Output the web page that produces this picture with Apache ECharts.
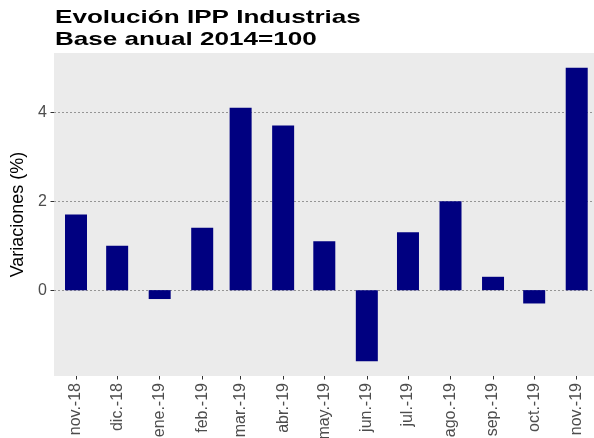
<!DOCTYPE html>
<html style="height: 100%">
<head>
    <meta charset="UTF-8">
    <title>Evolución IPP Industrias</title>
</head>
<body style="height: 100%; margin: 0">
<div id="container" style="width: 594px; height: 438px"></div>
<script src="https://cdn.jsdelivr.net/npm/echarts@6/dist/echarts.min.js"></script>
<script>
    var DAY = 86400000;
    // primer día de cada mes
    var fechas = ['2018-11-01', '2018-12-01', '2019-01-01', '2019-02-01', '2019-03-01', '2019-04-01', '2019-05-01',
        '2019-06-01', '2019-07-01', '2019-08-01', '2019-09-01', '2019-10-01', '2019-11-01'];
    var etiquetas = ['nov.-18', 'dic.-18', 'ene.-19', 'feb.-19', 'mar.-19', 'abr.-19', 'may.-19',
        'jun.-19', 'jul.-19', 'ago.-19', 'sep.-19', 'oct.-19', 'nov.-19'];
    var variaciones = [1.7, 1.0, -0.2, 1.4, 4.1, 3.7, 1.1, -1.6, 1.3, 2.0, 0.3, -0.3, 5.0];
    var marcasY = [0, 2, 4];
    var titulo = ['Evolución IPP Industrias', 'Base anual 2014=100'];
    var tituloY = 'Variaciones (%)';
</script>
<script>
    // eje x en días desde el primer mes (respeta la distinta duración de los meses)
    var t0 = Date.parse(fechas[0]);
    var dias = fechas.map(function (f) { return Math.round((Date.parse(f) - t0) / DAY); });
    var seriesData = [];
    for (var i = 0; i < dias.length; i++) {
        seriesData.push([dias[i], variaciones[i]]);
    }

    var dom = document.getElementById("container");
    var myChart = echarts.init(dom);
    var option = {
        animation: false,
        graphic: [
            {
                type: 'text',
                x: 55,
                y: 7.5,
                scaleX: 1.41,
                style: {
                    text: titulo.join('\n'),
                    font: 'bold 18.5px "Liberation Sans"',
                    fill: '#000',
                    lineHeight: 21.7,
                    verticalAlign: 'top'
                }
            }
        ],
        grid: {
            left: 54,
            right: 0,
            top: 53,
            bottom: 62,
            show: true,
            backgroundColor: '#EBEBEB',
            borderWidth: 0,
            outerBoundsMode: 'none'
        },
        xAxis: {
            type: 'value',
            min: dias[0] - 16.04,
            max: dias[dias.length - 1] + 12.6,
            axisLine: {show: false, onZero: false},
            axisTick: {
                show: true,
                customValues: dias,
                length: 3.5,
                lineStyle: {color: '#333'}
            },
            axisLabel: {
                customValues: dias,
                rotate: 90,
                margin: 7,
                color: '#4D4D4D',
                fontSize: 16,
                fontFamily: 'Liberation Sans',
                formatter: function (v) {
                    var k = dias.indexOf(v);
                    return k >= 0 ? etiquetas[k] : '';
                }
            },
            splitLine: {show: false}
        },
        yAxis: {
            type: 'value',
            min: -1.93,
            max: 5.33,
            splitNumber: 3,
            name: tituloY,
            nameLocation: 'middle',
            nameGap: 25,
            nameTextStyle: {fontSize: 18, color: '#000', fontFamily: 'Liberation Sans'},
            axisLine: {show: false, onZero: false},
            axisTick: {
                show: true,
                customValues: marcasY,
                length: 3.5,
                lineStyle: {color: '#333'}
            },
            axisLabel: {
                customValues: marcasY,
                margin: 7,
                color: '#4D4D4D',
                fontSize: 16,
                fontFamily: 'Liberation Sans'
            },
            splitLine: {
                show: true,
                lineStyle: {color: '#7f7f7f', width: 0.8, type: [2, 2]}
            }
        },
        series: [
            {
                type: 'bar',
                data: seriesData,
                barWidth: 22,
                itemStyle: {color: '#000080'},
                silent: true
            }
        ]
    };
    myChart.setOption(option);
</script>
</body>
</html>
